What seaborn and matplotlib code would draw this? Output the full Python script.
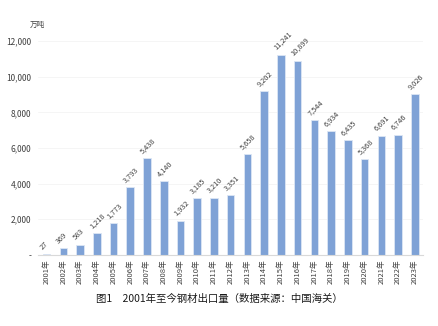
import matplotlib
matplotlib.use("Agg")
import matplotlib.pyplot as plt
import seaborn as sns
import pandas as pd

years = [f"{y}年" for y in range(2001, 2024)]
values = [27, 369, 583, 1218, 1773, 3793, 5438, 4140, 1932, 3185, 3210, 3351,
          5658, 9202, 11241, 10899, 7544, 6934, 6435, 5368, 6691, 6746, 9026]
yticks = [0, 2000, 4000, 6000, 8000, 10000, 12000]
ytick_labels = ["-", "2,000", "4,000", "6,000", "8,000", "10,000", "12,000"]
unit = "万吨"
caption = "图1　2001年至今钢材出口量（数据来源：中国海关）"

sns.set_theme(style="white")
plt.rcParams['font.family'] = ['Noto Sans CJK SC', 'DejaVu Sans']

df = pd.DataFrame({"year": years, "value": values})

fig = plt.figure(figsize=(4.39, 3.26), dpi=100)
ax = fig.add_axes([0.087, 0.218, 0.877, 0.656])
sns.barplot(data=df, x="year", y="value", color="#7fa2d6", width=0.45,
            edgecolor="#dce6f4", linewidth=0.6, saturation=1, ax=ax)

ax.set_ylim(0, 12000)
ax.set_xlim(-0.5, len(years) - 0.5)
ax.set_yticks(yticks)
ax.set_yticklabels(ytick_labels, fontsize=6, color="#404040")
ax.tick_params(axis="y", length=0, pad=5)
ax.tick_params(axis="x", length=0, pad=3)
ax.set_xticks(range(len(years)))
ax.set_xticklabels(years, rotation=90, fontsize=5.5, color="#404040")
for t in yticks[1:]:
    ax.axhline(t, color="#f4f4f4", lw=0.6, zorder=0)
for s in ["top", "right", "left"]:
    ax.spines[s].set_visible(False)
ax.spines["bottom"].set_color("#d9d9d9")
ax.spines["bottom"].set_linewidth(0.8)
ax.set_xlabel("")
ax.set_ylabel("")

for i, v in enumerate(values):
    ax.annotate(f"{v:,}", (i, v), xytext=(-2, 2), textcoords="offset points",
                rotation=45, fontsize=5.3, color="#404040", ha="left", va="bottom",
                rotation_mode="anchor")

fig.text(0.068, 0.925, unit, fontsize=5.5, color="#404040", ha="left", va="center")
fig.text(0.5, 0.082, caption, fontsize=7.5, color="#1a1a1a", ha="center", va="center")

fig.savefig("out.png", dpi=100, facecolor="white")
